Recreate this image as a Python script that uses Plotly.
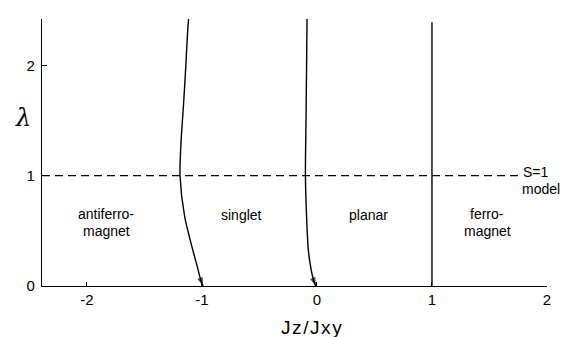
import plotly.graph_objects as go

# Phase boundaries of the spin-1 chain, J_z/J_xy vs. lambda
af_singlet_lambda = [0.0, 0.054, 0.175, 0.33, 0.63, 1.0, 1.23, 1.49, 1.69, 1.99, 2.29, 2.5]
af_singlet_x = [-0.99, -1.01, -1.04, -1.08, -1.15, -1.19, -1.185, -1.17, -1.157, -1.14, -1.125, -1.11]

singlet_planar_lambda = [0.0, 0.054, 0.175, 0.33, 0.63, 1.0, 1.5, 2.0, 2.5]
singlet_planar_x = [-0.01, -0.03, -0.055, -0.075, -0.09, -0.1, -0.095, -0.09, -0.085]

planar_ferro_lambda = [0.0, 2.39]
planar_ferro_x = [1.0, 1.0]

s1_model_lambda = [1.0, 1.0]
s1_model_x = [-2.39, 1.75]

x_ticks = [-2, -1, 0, 1, 2]
x_tick_text = ["-2", "-1", "0", "1", "2"]
y_ticks = [0, 1, 2]
y_tick_text = ["0", "1", "2"]

FONT = "Liberation Sans, Arial, sans-serif"
LW = 1.4

fig = go.Figure()


def boundary(xs, ys, arrow):
    # drawn from the top down so the arrowhead lands on lambda = 0
    xs = list(reversed(xs))
    ys = list(reversed(ys))
    sizes = [0] * len(xs)
    if arrow:
        sizes[-1] = 9
    fig.add_trace(go.Scatter(
        x=xs, y=ys,
        mode="lines+markers" if arrow else "lines",
        line=dict(color="black", width=LW, shape="spline", smoothing=0.8),
        marker=dict(symbol="arrow", angleref="previous", size=sizes,
                    color="black", line=dict(width=0)),
        cliponaxis=False, showlegend=False, hoverinfo="skip",
    ))


boundary(af_singlet_x, af_singlet_lambda, True)
boundary(singlet_planar_x, singlet_planar_lambda, True)
boundary(planar_ferro_x, planar_ferro_lambda, False)

fig.add_trace(go.Scatter(
    x=s1_model_x, y=s1_model_lambda, mode="lines",
    line=dict(color="black", width=LW, dash="8px,5px"),
    cliponaxis=False, showlegend=False, hoverinfo="skip",
))

label_font = dict(family=FONT, size=14, color="black")
labels = [
    ("antiferro-", -1.83, 0.655),
    ("magnet", -1.83, 0.50),
    ("singlet", -0.66, 0.645),
    ("planar", 0.45, 0.645),
    ("ferro-", 1.48, 0.655),
    ("magnet", 1.48, 0.50),
    ("S=1", 1.9, 1.03),
    ("model", 1.95, 0.875),
]
for text, x, y in labels:
    fig.add_annotation(x=x, y=y, text=text, showarrow=False,
                       xanchor="center", yanchor="middle", font=label_font)

# axis titles
fig.add_annotation(xref="paper", yref="y", x=-0.038, y=1.52, text="λ",
                   showarrow=False, xanchor="center", yanchor="middle",
                   font=dict(family="DejaVu Serif, serif", size=24, color="black", style="italic"))
fig.add_annotation(xref="paper", yref="paper", x=0.533, y=-0.157,
                   text="J\u200az\u200a/\u200aJ\u200ax\u200ay", showarrow=False,
                   xanchor="center", yanchor="middle",
                   font=dict(family=FONT, size=19, color="black"))

fig.update_layout(
    width=575, height=337,
    margin=dict(l=42, r=28, t=19, b=51),
    paper_bgcolor="white", plot_bgcolor="white",
    xaxis=dict(range=[-2.39, 2.0], tickmode="array", tickvals=x_ticks, ticktext=x_tick_text,
               ticks="inside", ticklen=4, tickwidth=LW, tickcolor="black",
               showline=True, linecolor="black", linewidth=LW, mirror=False,
               showgrid=False, zeroline=False, ticklabelstandoff=0,
               tickfont=dict(family=FONT, size=15, color="black")),
    yaxis=dict(range=[0, 2.42], tickmode="array", tickvals=y_ticks, ticktext=y_tick_text,
               ticks="inside", ticklen=5, tickwidth=LW, tickcolor="black",
               showline=True, linecolor="black", linewidth=LW, mirror=False,
               showgrid=False, zeroline=False, ticklabelstandoff=3,
               tickfont=dict(family=FONT, size=15, color="black")),
)

fig.write_html("out.html")
